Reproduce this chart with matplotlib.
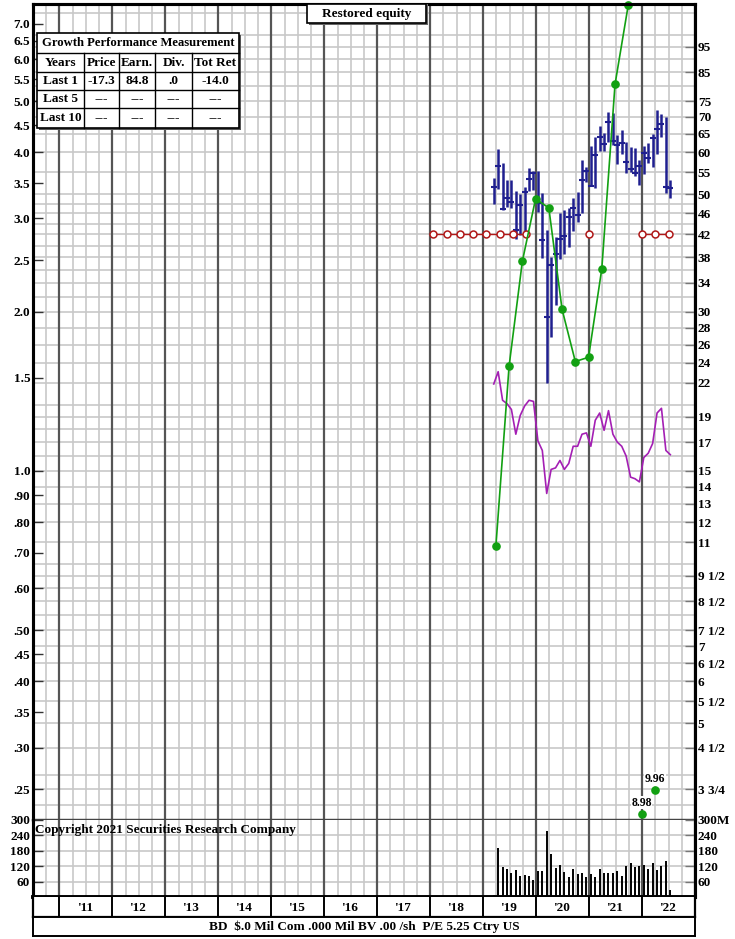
"""Restored equity price / earnings chart in the SRC style."""

import matplotlib

matplotlib.use("Agg")
import matplotlib.pyplot as plt
import numpy as np
from matplotlib.patches import Rectangle
from matplotlib.ticker import NullLocator

W, H = 735, 939

plt.rcParams["font.family"] = ["Liberation Serif", "DejaVu Serif"]
plt.rcParams["font.weight"] = "bold"

# ---- data -----------------------------------------------------------------
# monthly price bars (right scale), first bar March 2019
price_high = [53.7, 60.8, 57.4, 53.2, 53.2, 50.8, 50.0, 51.6, 56.1, 55.4,
              55.3, 50.3, 42.8, 38.0, 41.5, 46.0, 46.6, 47.1, 49.2, 50.4,
              58.0, 56.2, 61.6, 64.2, 67.4, 65.4, 71.4, 71.3, 64.6, 66.0,
              62.9, 61.4, 61.1, 58.0, 61.6, 62.6, 65.1, 72.0, 70.9, 69.9, 53.2]
price_low = [48.0, 51.2, 46.7, 47.3, 47.2, 41.1, 41.8, 42.4, 50.8, 50.9,
             46.3, 37.9, 22.0, 26.9, 30.9, 37.8, 38.6, 39.7, 42.7, 44.4,
             46.1, 52.7, 51.8, 51.4, 60.3, 60.3, 62.8, 62.0, 57.0, 59.7,
             54.8, 55.0, 54.2, 52.0, 54.5, 57.4, 56.2, 59.7, 64.1, 50.3, 49.2]
price_close = [51.6, 56.6, 46.9, 49.1, 48.4, 42.8, 47.7, 50.4, 53.4, 54.8,
               48.1, 40.9, 29.3, 36.7, 38.6, 41.1, 41.7, 45.2, 47.2, 45.6,
               53.2, 55.4, 51.9, 59.3, 64.1, 62.1, 68.6, 63.0, 61.9, 62.6,
               57.5, 55.7, 54.8, 56.6, 59.8, 58.6, 63.9, 66.5, 67.9, 51.6, 51.4]
rel_strength = [21.9, 23.1, 20.4, 20.1, 19.6, 17.6, 19.1, 19.9, 20.4, 20.3,
                17.1, 16.4, 13.6, 15.1, 15.2, 15.7, 15.1, 15.5, 16.7, 16.7,
                17.6, 17.7, 16.7, 18.7, 19.3, 17.9, 19.5, 17.6, 17.0, 16.7,
                16.0, 14.6, 14.5, 14.3, 15.9, 16.2, 16.9, 19.3, 19.7, 16.4, 16.1]
volume = [9, 192, 115, 110, 95, 106, 82, 87, 83, 68, 100, 100, 258, 168,
          112, 125, 96, 77, 108, 91, 93, 76, 91, 77, 110, 95, 95, 93, 100,
          82, 121, 133, 115, 121, 126, 108, 134, 107, 120, 140, 29]
price_dates = 2019 + (np.arange(len(price_high)) + 2.4) / 12

# quarterly earnings (left scale)
eps_dates = [2019.24, 2019.49, 2019.74, 2019.99, 2020.24, 2020.49,
             2020.74, 2020.99, 2021.24, 2021.49, 2021.74]
eps_values = [0.72, 1.58, 2.49, 3.27, 3.14, 2.02, 1.61, 1.64, 2.41, 5.38, 7.6]
est_dates = [2021.99, 2022.24]
est_values = [8.98, 9.96]
ESTIMATE_WRAP = 40  # off-scale estimates are folded back into the chart

# red quarterly markers (right scale), nan breaks the line
signal_dates = [2018.06, 2018.31, 2018.56, 2018.81, 2019.06, 2019.31,
                2019.56, 2019.81, 2020.4, 2021.0, 2021.5, 2022.0, 2022.25, 2022.5]
signal_price = [42, 42, 42, 42, 42, 42, 42, 42, np.nan, 42, np.nan, 42, 42, 42]

left_ticks = [7.0, 6.5, 6.0, 5.5, 5.0, 4.5, 4.0, 3.5, 3.0, 2.5, 2.0, 1.5, 1.0,
              0.9, 0.8, 0.7, 0.6, 0.5, 0.45, 0.4, 0.35, 0.3, 0.25]
left_labels = ["7.0", "6.5", "6.0", "5.5", "5.0", "4.5", "4.0", "3.5", "3.0",
               "2.5", "2.0", "1.5", "1.0", ".90", ".80", ".70", ".60", ".50",
               ".45", ".40", ".35", ".30", ".25"]
right_ticks = [95, 85, 75, 70, 65, 60, 55, 50, 46, 42, 38, 34, 30, 28, 26, 24,
               22, 19, 17, 15, 14, 13, 12, 11, 9.5, 8.5, 7.5, 7, 6.5, 6, 5.5,
               5, 4.5, 3.75]
right_labels = ["95", "85", "75", "70", "65", "60", "55", "50", "46", "42",
                "38", "34", "30", "28", "26", "24", "22", "19", "17", "15",
                "14", "13", "12", "11", "9 1/2", "8 1/2", "7 1/2", "7", "6 1/2",
                "6", "5 1/2", "5", "4 1/2", "3 3/4"]
grid_levels = [110, 100, 95, 90, 85, 80, 75, 70, 65, 60, 55, 50, 48, 46, 44,
               42, 40, 38, 36, 34, 32, 30, 28, 26, 24, 22, 20, 19, 18, 17, 16,
               15, 14, 13, 12, 11, 10, 9.5, 9, 8.5, 8, 7.5, 7, 6.5, 6, 5.5, 5,
               4.5, 4, 3.75, 3.5]
vol_ticks = [60, 120, 180, 240, 300]
years = list(range(2011, 2023))
year_labels = ["'11", "'12", "'13", "'14", "'15", "'16", "'17", "'18",
               "'19", "'20", "'21", "'22"]

table_cols = ["Years", "Price", "Earn.", "Div.", "Tot Ret"]
table_rows = [["Last 1", "-17.3", "84.8", ".0", "-14.0"],
              ["Last 5", "---", "---", "---", "---"],
              ["Last 10", "---", "---", "---", "---"]]

# ---- style ----------------------------------------------------------------
NAVY = "#1f1f8f"
GREEN = "#12a012"
PURPLE = "#a41fb4"
RED = "#b01818"
GRID = "#c8c8c8"
YEARLINE = "#555555"
FS = 9.5
X0, X1 = 2010.5, 2023.0
RATIO = 15.0
Y_LO, Y_HI = 0.2189, 7.63


def fx(px):
    return px / W


def fy(py):
    return 1 - py / H


def box(x0, y0, x1, y1):
    return [fx(x0), fy(y1), fx(x1) - fx(x0), fy(y0) - fy(y1)]


def vertical_grid(axis):
    for yr in np.arange(X0, X1 + 0.01, 0.25):
        if abs(yr - round(yr)) < 1e-6:
            axis.axvline(yr, color=YEARLINE, lw=1.6, zorder=1)
        else:
            axis.axvline(yr, color=GRID, lw=1.2, zorder=0)


fig = plt.figure(figsize=(W / 100, H / 100), dpi=100)

# ---- main price / earnings panel ------------------------------------------
ax = fig.add_axes(box(33, 4, 695, 820))
ax.set_yscale("log")
ax.set_xlim(X0, X1)
ax.set_ylim(Y_LO, Y_HI)
vertical_grid(ax)
for lvl in grid_levels:
    ax.axhline(lvl / RATIO, color=GRID, lw=1.2, zorder=0)

ax.vlines(price_dates, np.array(price_low) / RATIO, np.array(price_high) / RATIO,
          color=NAVY, lw=1.8, zorder=3)
ax.plot(price_dates, np.array(price_close) / RATIO, ls="none", marker="_",
        ms=4.5, mew=1.5, color=NAVY, zorder=3)
ax.plot(price_dates, np.array(rel_strength) / RATIO, color=PURPLE, lw=1.2, zorder=3)
ax.plot(signal_dates, np.array(signal_price) / RATIO, color=RED, lw=1.0,
        marker="o", ms=5, mfc="white", mec=RED, mew=1.1, zorder=4)
ax.plot(eps_dates, eps_values, color=GREEN, lw=1.2, marker="o", ms=5.2,
        zorder=5, clip_on=False)
est_pos = np.array(est_values) / ESTIMATE_WRAP
ax.plot(est_dates, est_pos, ls="none", marker="o", ms=5.2, color=GREEN, zorder=5)
for d, p, v in zip(est_dates, est_pos, est_values):
    ax.annotate(f"{v:.2f}", (d, p), xytext=(0, 4), textcoords="offset points",
                ha="center", va="bottom", fontsize=8.5, zorder=6,
                bbox=dict(facecolor="white", edgecolor="none", pad=0.5))

ax.yaxis.set_minor_locator(NullLocator())
ax.set_yticks(left_ticks)
ax.set_yticklabels(left_labels)
ax.set_xticks([])
ax.tick_params(axis="y", direction="in", length=7, width=1, color="#333333",
               labelsize=FS, pad=2)

ax2 = ax.twinx()
ax2.set_yscale("log")
ax2.set_ylim(Y_LO * RATIO, Y_HI * RATIO)
ax2.yaxis.set_minor_locator(NullLocator())
ax2.set_yticks(right_ticks)
ax2.set_yticklabels(right_labels)
ax2.tick_params(axis="y", direction="in", length=7, width=1, color="#777777",
                labelsize=FS, pad=2)
for axis in (ax, ax2):
    for side in ("left", "right", "top"):
        axis.spines[side].set_linewidth(2.2)
    axis.spines["bottom"].set_color("#444444")
    axis.spines["bottom"].set_linewidth(1.6)

# ---- volume panel ---------------------------------------------------------
vax = fig.add_axes(box(33, 820, 695, 897))
vax.set_xlim(X0, X1)
vax.set_ylim(0, 300)
vertical_grid(vax)
for lvl in vol_ticks[:-1]:
    vax.axhline(lvl, color=GRID, lw=1.2, zorder=0)
vax.vlines(price_dates, 0, volume, color="black", lw=1.4, zorder=3)
vax.set_yticks(vol_ticks)
vax.set_yticklabels([str(v) for v in vol_ticks])
vax.set_xticks([])
vax.tick_params(axis="y", direction="in", length=7, width=1, color="#333333",
                labelsize=FS, pad=2)
vax2 = vax.twinx()
vax2.set_ylim(0, 300)
vax2.set_yticks(vol_ticks)
vax2.set_yticklabels([f"{v}M" if v == 300 else str(v) for v in vol_ticks])
vax2.tick_params(axis="y", direction="in", length=7, width=1, color="#777777",
                 labelsize=FS, pad=2)
for axis in (vax, vax2):
    for side in ("left", "right"):
        axis.spines[side].set_linewidth(2.2)
    axis.spines["top"].set_visible(False)
    axis.spines["bottom"].set_linewidth(2.6)
vax.text(2010.54, 262, "Copyright 2021 Securities Research Company",
         ha="left", va="center", fontsize=FS, zorder=6)

# ---- year row -------------------------------------------------------------
yax = fig.add_axes(box(33, 897, 695, 917))
yax.set_xlim(X0, X1)
yax.set_ylim(0, 1)
yax.set_xticks([])
yax.set_yticks([])
for yr, lab in zip(years, year_labels):
    yax.axvline(yr, color="black", lw=1.4)
    yax.text(yr + 0.5, 0.45, lab, ha="center", va="center", fontsize=FS)
for side in ("left", "right", "bottom"):
    yax.spines[side].set_linewidth(1.6)
yax.spines["top"].set_visible(False)

# ---- footer ---------------------------------------------------------------
fax = fig.add_axes(box(33, 917, 695, 936))
fax.set_xticks([])
fax.set_yticks([])
for side in fax.spines:
    fax.spines[side].set_linewidth(1.4)
fax.text(0.5, 0.5, "BD  $.0 Mil Com .000 Mil BV .00 /sh  P/E 5.25 Ctry US",
         ha="center", va="center", fontsize=FS, transform=fax.transAxes)

# ---- title box ------------------------------------------------------------
fig.add_artist(Rectangle((fx(309), fy(25)), fx(428) - fx(309), fy(4) - fy(25),
                         facecolor="#666666", edgecolor="none", zorder=9))
fig.add_artist(Rectangle((fx(307), fy(23)), fx(426) - fx(307), fy(4) - fy(23),
                         facecolor="white", edgecolor="black", lw=1.2, zorder=10))
fig.text(fx(366.5), fy(13.5), "Restored equity", ha="center", va="center",
         fontsize=FS, zorder=11)

# ---- growth table ---------------------------------------------------------
tx0, tx1, ty0, ty1 = 37, 239, 33, 128
col_edges = [37, 84, 119, 155, 192, 239]
row_edges = [53, 72, 90, 108, 128]
fig.add_artist(Rectangle((fx(tx0 + 2), fy(ty1 + 2)), fx(tx1) - fx(tx0),
                         fy(ty0) - fy(ty1), facecolor="#555555",
                         edgecolor="none", zorder=9))
fig.add_artist(Rectangle((fx(tx0), fy(ty1)), fx(tx1) - fx(tx0),
                         fy(ty0) - fy(ty1), facecolor="white",
                         edgecolor="black", lw=1.2, zorder=10))
fig.text(fx((tx0 + tx1) / 2), fy((ty0 + row_edges[0]) / 2),
         "Growth Performance Measurement", ha="center", va="center",
         fontsize=9.1, zorder=11)
for r in row_edges[:-1]:
    fig.add_artist(plt.Line2D([fx(tx0), fx(tx1)], [fy(r), fy(r)], color="black",
                              lw=1.0, zorder=11))
for c in col_edges[1:-1]:
    fig.add_artist(plt.Line2D([fx(c), fx(c)], [fy(row_edges[0]), fy(ty1)],
                              color="black", lw=1.0, zorder=11))
all_rows = [table_cols] + table_rows
for i, row in enumerate(all_rows):
    yc = (row_edges[i] + row_edges[i + 1]) / 2
    for j, cell in enumerate(row):
        xc = (col_edges[j] + col_edges[j + 1]) / 2
        fig.text(fx(xc), fy(yc), cell, ha="center", va="center", fontsize=FS,
                 zorder=11)

fig.savefig("out.png", dpi=100)
